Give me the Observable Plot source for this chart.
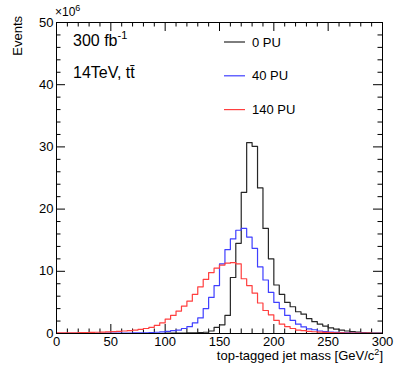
<!DOCTYPE html>
<html><head><meta charset="utf-8">
<script src="https://cdn.jsdelivr.net/npm/d3@7"></script>
<script src="https://cdn.jsdelivr.net/npm/@observablehq/plot@0.6"></script>
<style>
body{margin:0;background:#fff}
svg text{font-family:"Liberation Sans",Arial,Helvetica,sans-serif}
</style>
</head><body><div id="chart"></div>
<script>
// bin lower edges (GeV), bin width 5
const binEdges = [0,5,10,15,20,25,30,35,40,45,50,55,60,65,70,75,80,85,90,95,100,105,110,115,120,125,130,135,140,145,150,155,160,165,170,175,180,185,190,195,200,205,210,215,220,225,230,235,240,245,250,255,260,265,270,275,280,285,290,295];
const xEnd = 300;
// events (x10^6) per bin
const pu0 = [0,0,0,0,0,0,0,0,0,0,0,0,0,0,0,0,0,0,0,0,0.05,0.05,0.05,0.05,0.1,0.1,0.15,0.2,0.4,1.0,1.4,2.9,9.0,14.5,22.7,30.7,30.1,23.4,16.9,12.0,7.8,6.3,5.0,4.3,3.5,3.1,2.4,1.9,1.5,1.2,0.9,0.7,0.55,0.4,0.3,0.22,0.15,0.1,0.08,0.06];
const pu40 = [0.02,0.02,0.02,0.02,0.03,0.03,0.03,0.04,0.04,0.05,0.05,0.05,0.07,0.08,0.1,0.1,0.12,0.15,0.2,0.25,0.35,0.45,0.55,0.8,1.1,1.7,2.5,4.0,5.8,7.7,11.2,13.5,15.2,16.6,16.9,15.5,13.7,10.7,8.6,6.6,5.0,4.0,2.9,2.1,1.5,1.05,0.75,0.6,0.4,0.3,0.22,0.18,0.14,0.1,0.08,0.06,0.05,0.04,0.03,0.03];
const pu140 = [0.1,0.1,0.12,0.12,0.14,0.15,0.17,0.2,0.22,0.25,0.3,0.35,0.4,0.45,0.55,0.65,0.8,1.0,1.3,1.7,2.3,2.9,3.6,4.4,5.2,6.3,7.5,8.7,9.8,10.5,11.0,11.3,11.4,11.2,8.8,7.7,6.5,4.9,3.7,3.0,2.1,1.5,1.1,0.8,0.55,0.45,0.35,0.28,0.22,0.18,0.14,0.12,0.1,0.08,0.07,0.06,0.05,0.05,0.04,0.04];
const seriesNames = ["0 PU","40 PU","140 PU"];
const seriesColors = ["#262626","#3f3fff","#ff3f3f"];
// ticks
const xMajor = [0,50,100,150,200,250,300];
const xMinor = [10,20,30,40,60,70,80,90,110,120,130,140,160,170,180,190,210,220,230,240,260,270,280,290];
const yMajor = [0,10,20,30,40,50];
const yMinor = [2,4,6,8,12,14,16,18,22,24,26,28,32,34,36,38,42,44,46,48];
const xTitle = "top-tagged jet mass [GeV/c";
const yTitle = "Events";

const W = 399, H = 383, mL = 56, mR = 17, mT = 22, mB = 50;
const pw = W - mL - mR, ph = H - mT - mB;

function toSteps(vals){
  const pts = binEdges.map((b,i)=>({x:b, y:vals[i]}));
  pts.push({x:xEnd, y:vals[vals.length-1]});
  return pts;
}
const allSeries = [pu0, pu40, pu140];

const tickStroke = "#000";
const marks = [
  Plot.ruleX(xMajor, {x:d=>d, stroke:tickStroke, insetTop: ph-9}),
  Plot.ruleX(xMinor, {x:d=>d, stroke:tickStroke, insetTop: ph-4.5}),
  Plot.ruleX(xMajor, {x:d=>d, stroke:tickStroke, insetBottom: ph-9}),
  Plot.ruleX(xMinor, {x:d=>d, stroke:tickStroke, insetBottom: ph-4.5}),
  Plot.ruleY(yMajor, {y:d=>d, stroke:tickStroke, insetRight: pw-9}),
  Plot.ruleY(yMinor, {y:d=>d, stroke:tickStroke, insetRight: pw-4.5}),
  Plot.ruleY(yMajor, {y:d=>d, stroke:tickStroke, insetLeft: pw-9}),
  Plot.ruleY(yMinor, {y:d=>d, stroke:tickStroke, insetLeft: pw-4.5}),
  Plot.axisX(xMajor, {tickSize:0, tickPadding:3, fontSize:13, label:null, tickFormat:d=>String(d)}),
  Plot.axisY(yMajor, {tickSize:0, tickPadding:3, fontSize:13, label:null, tickFormat:d=>String(d)}),
  ...allSeries.map((vals,i)=>Plot.line(toSteps(vals), {x:"x", y:"y", curve:"step-after", stroke:seriesColors[i], strokeWidth:1.2})),
  Plot.frame({stroke:"#000", strokeWidth:1})
];

const plot = Plot.plot({
  width:W, height:H,
  marginLeft:mL, marginRight:mR, marginTop:mT, marginBottom:mB,
  style:{fontFamily:'"Liberation Sans",Arial,Helvetica,sans-serif', fontSize:"12px", background:"#fff", color:"#000"},
  x:{domain:[0,xEnd]},
  y:{domain:[0,50]},
  marks
});
document.getElementById("chart").append(plot);

// annotations
const svg = d3.select(plot);
const fx = mL, fy = mT, fr = W - mR, fb = H - mB;
const g = svg.append("g").attr("fill","#000").attr("text-anchor","start");

const ex = g.append("text").attr("x", fx-1).attr("y", fy-6).attr("font-size", 12);
ex.append("tspan").text("\u00d710");
ex.append("tspan").attr("dy",-5).attr("font-size",9).text("6");

g.append("text").attr("transform", `translate(${22},${fy-6}) rotate(-90)`)
  .attr("text-anchor","end").attr("font-size",13).text(yTitle);

const xt = g.append("text").attr("x", fr+1).attr("y", fb+27).attr("text-anchor","end").attr("font-size",13);
xt.append("tspan").text(xTitle);
xt.append("tspan").attr("dy",-5).attr("font-size",9).text("2");
xt.append("tspan").attr("dy",5).text("]");

const t1 = g.append("text").attr("x", fx+17).attr("y", fy+24).attr("font-size",16);
t1.append("tspan").text("300 fb");
t1.append("tspan").attr("dy",-7).attr("font-size",11).text("-1");
g.append("text").attr("x", fx+17).attr("y", fy+56).attr("font-size",16).text("14TeV, tt\u0304");

seriesNames.forEach((name,i)=>{
  const cy = fy + 20 + i*33.8;
  g.append("line").attr("x1", fx+168).attr("x2", fx+189).attr("y1", cy).attr("y2", cy)
    .attr("stroke", seriesColors[i]).attr("stroke-width",1.2);
  g.append("text").attr("x", fx+196).attr("y", cy+4.5).attr("font-size",13).text(name);
});
</script></body></html>
